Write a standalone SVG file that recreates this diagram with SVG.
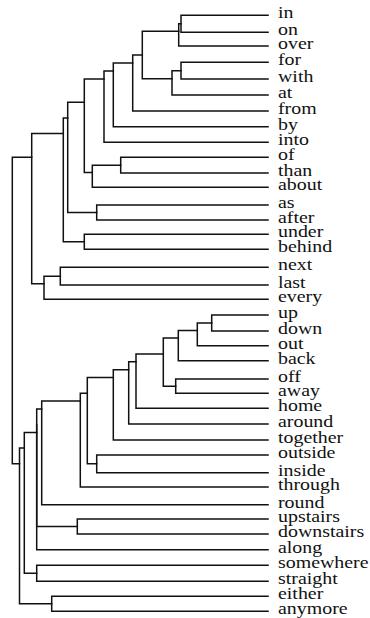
<svg xmlns="http://www.w3.org/2000/svg" width="370" height="618" viewBox="0 0 370 618">
  <style>
    .link { fill: none; stroke: #111; stroke-width: 1.5; stroke-linecap: square; stroke-linejoin: miter; }
    .lbl { font-family: "Liberation Serif", "Times New Roman", serif; font-size: 17px; fill: #111; }
  </style>
  <rect width="370" height="618" fill="#fff"/>

  <!-- dendrogram links: each bracket joins two subtrees -->
  <g id="connectors" class="link">
    <path d="M268 15.3 H181 V32.3 H268"/>
    <path d="M181 23.8 H178.7 V46 H268"/>
    <path d="M268 62.3 H181 V79 H268"/>
    <path d="M181 70.65 H172 V95 H268"/>
    <path d="M178.7 31.2 H142.3 V78.77 H172"/>
    <path d="M142.3 55 H132.7 V111 H268"/>
    <path d="M132.7 63 H113.3 V126.7 H268"/>
    <path d="M113.3 71 H104 V142.3 H268"/>
    <path d="M268 157.3 H120.7 V173 H268"/>
    <path d="M120.7 165.15 H92.3 V187.3 H268"/>
    <path d="M104 78.9 H84.3 V172.53 H92.3"/>
    <path d="M268 205 H96.7 V220 H268"/>
    <path d="M84.3 102.3 H67.7 V212.5 H96.7"/>
    <path d="M268 234.3 H84.3 V249.3 H268"/>
    <path d="M67.7 118 H63.3 V241.8 H84.3"/>
    <path d="M268 267.3 H60.3 V285 H268"/>
    <path d="M60.3 276.15 H44 V299.3 H268"/>
    <path d="M63.3 133.5 H31.7 V283.87 H44"/>

    <path d="M268 315 H211.7 V331 H268"/>
    <path d="M211.7 323 H197.3 V345.7 H268"/>
    <path d="M197.3 330.57 H178.3 V360.7 H268"/>
    <path d="M268 379 H175.7 V393.3 H268"/>
    <path d="M178.3 338.1 H163.3 V386.15 H175.7"/>
    <path d="M163.3 354.12 H136 V408.3 H268"/>
    <path d="M136 361.86 H128.7 V424 H268"/>
    <path d="M128.7 369.63 H113.3 V440 H268"/>
    <path d="M268 455 H96.7 V472.7 H268"/>
    <path d="M113.3 377.44 H87.3 V463.85 H96.7"/>
    <path d="M87.3 393.15 H80.3 V487 H268"/>
    <path d="M80.3 400.98 H41.7 V504.7 H268"/>
    <path d="M268 519 H77.3 V534 H268"/>
    <path d="M41.7 408.95 H36.7 V526.5 H77.3"/>
    <path d="M36.7 424.63 V549.7 H268"/>
    <path d="M268 565.3 H36.7 V581.3 H268"/>
    <path d="M36.7 432.44 H24.3 V573.3 H36.7"/>
    <path d="M268 596.3 H51.7 V611.3 H268"/>
    <path d="M24.3 448.09 H19.5 V603.8 H51.7"/>

    <!-- root -->
    <path d="M31.7 157.28 H12.3 V463.67 H19.5"/>
  </g>

  <!-- leaf labels -->
  <g id="leaf-in"><text class="lbl" transform="translate(278 18.3) scale(1.17 1)">in</text></g>
  <g id="leaf-on"><text class="lbl" transform="translate(278 35.3) scale(1.17 1)">on</text></g>
  <g id="leaf-over"><text class="lbl" transform="translate(278 49) scale(1.17 1)">over</text></g>
  <g id="leaf-for"><text class="lbl" transform="translate(278 65.3) scale(1.17 1)">for</text></g>
  <g id="leaf-with"><text class="lbl" transform="translate(278 82) scale(1.17 1)">with</text></g>
  <g id="leaf-at"><text class="lbl" transform="translate(278 98) scale(1.17 1)">at</text></g>
  <g id="leaf-from"><text class="lbl" transform="translate(278 114) scale(1.17 1)">from</text></g>
  <g id="leaf-by"><text class="lbl" transform="translate(278 129.7) scale(1.17 1)">by</text></g>
  <g id="leaf-into"><text class="lbl" transform="translate(278 145.3) scale(1.17 1)">into</text></g>
  <g id="leaf-of"><text class="lbl" transform="translate(278 160.3) scale(1.17 1)">of</text></g>
  <g id="leaf-than"><text class="lbl" transform="translate(278 176) scale(1.17 1)">than</text></g>
  <g id="leaf-about"><text class="lbl" transform="translate(278 190.3) scale(1.17 1)">about</text></g>
  <g id="leaf-as"><text class="lbl" transform="translate(278 208) scale(1.17 1)">as</text></g>
  <g id="leaf-after"><text class="lbl" transform="translate(278 223) scale(1.17 1)">after</text></g>
  <g id="leaf-under"><text class="lbl" transform="translate(278 237.3) scale(1.17 1)">under</text></g>
  <g id="leaf-behind"><text class="lbl" transform="translate(278 252.3) scale(1.17 1)">behind</text></g>
  <g id="leaf-next"><text class="lbl" transform="translate(278 270.3) scale(1.17 1)">next</text></g>
  <g id="leaf-last"><text class="lbl" transform="translate(278 288) scale(1.17 1)">last</text></g>
  <g id="leaf-every"><text class="lbl" transform="translate(278 302.3) scale(1.17 1)">every</text></g>
  <g id="leaf-up"><text class="lbl" transform="translate(278 318) scale(1.17 1)">up</text></g>
  <g id="leaf-down"><text class="lbl" transform="translate(278 334) scale(1.17 1)">down</text></g>
  <g id="leaf-out"><text class="lbl" transform="translate(278 348.7) scale(1.17 1)">out</text></g>
  <g id="leaf-back"><text class="lbl" transform="translate(278 363.7) scale(1.17 1)">back</text></g>
  <g id="leaf-off"><text class="lbl" transform="translate(278 382) scale(1.17 1)">off</text></g>
  <g id="leaf-away"><text class="lbl" transform="translate(278 396.3) scale(1.17 1)">away</text></g>
  <g id="leaf-home"><text class="lbl" transform="translate(278 411.3) scale(1.17 1)">home</text></g>
  <g id="leaf-around"><text class="lbl" transform="translate(278 427) scale(1.17 1)">around</text></g>
  <g id="leaf-together"><text class="lbl" transform="translate(278 443) scale(1.17 1)">together</text></g>
  <g id="leaf-outside"><text class="lbl" transform="translate(278 458) scale(1.17 1)">outside</text></g>
  <g id="leaf-inside"><text class="lbl" transform="translate(278 475.7) scale(1.17 1)">inside</text></g>
  <g id="leaf-through"><text class="lbl" transform="translate(278 490) scale(1.17 1)">through</text></g>
  <g id="leaf-round"><text class="lbl" transform="translate(278 507.7) scale(1.17 1)">round</text></g>
  <g id="leaf-upstairs"><text class="lbl" transform="translate(278 522) scale(1.17 1)">upstairs</text></g>
  <g id="leaf-downstairs"><text class="lbl" transform="translate(278 537) scale(1.17 1)">downstairs</text></g>
  <g id="leaf-along"><text class="lbl" transform="translate(278 552.7) scale(1.17 1)">along</text></g>
  <g id="leaf-somewhere"><text class="lbl" transform="translate(278 568.3) scale(1.17 1)">somewhere</text></g>
  <g id="leaf-straight"><text class="lbl" transform="translate(278 584.3) scale(1.17 1)">straight</text></g>
  <g id="leaf-either"><text class="lbl" transform="translate(278 599.3) scale(1.17 1)">either</text></g>
  <g id="leaf-anymore"><text class="lbl" transform="translate(278 614.3) scale(1.17 1)">anymore</text></g>
</svg>
